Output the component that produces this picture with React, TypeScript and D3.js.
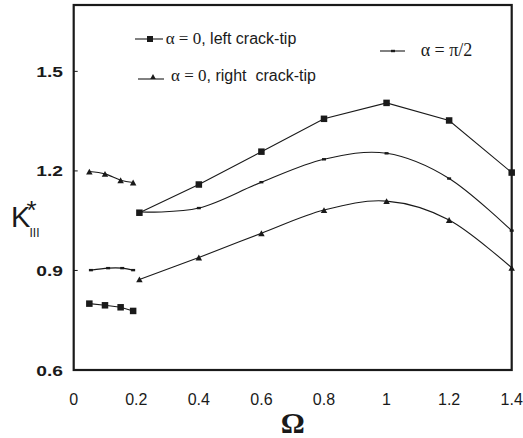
import React from "react";
import * as d3 from "d3";

// Omega values
const omegaShort = [0.05, 0.1, 0.15, 0.19];
const omegaMain = [0.21, 0.4, 0.6, 0.8, 1.0, 1.2, 1.4];
const omegaShortPi = [0.055, 0.11, 0.155, 0.19];

// K*_III, alpha = 0, left crack-tip
const leftShort = [0.8, 0.795, 0.789, 0.778];
const leftMain = [1.074, 1.159, 1.258, 1.357, 1.405, 1.352, 1.195];

// alpha = 0, right crack-tip
const rightShort = [1.198, 1.191, 1.172, 1.165];
const rightMain = [0.873, 0.939, 1.012, 1.082, 1.109, 1.052, 0.908];

// alpha = pi/2
const piShort = [0.901, 0.907, 0.907, 0.901];
const piMain = [1.076, 1.088, 1.166, 1.235, 1.253, 1.177, 1.02];

const xTicks = [0, 0.2, 0.4, 0.6, 0.8, 1, 1.2, 1.4];
const yTicks = [0.6, 0.9, 1.2, 1.5];

const W = 523, H = 438;
const left = 73.7, right = 511.7, top = 5, bottom = 370;

const x = d3.scaleLinear().domain([0, 1.4]).range([left, right]);
const y = d3.scaleLinear().domain([0.6, 1.7]).range([bottom, top]);

type Pt = [number, number];
const zip = (xs: number[], ys: number[]): Pt[] => xs.map((v, i) => [v, ys[i]]);

const straight = d3.line<Pt>().x(d => x(d[0])).y(d => y(d[1]));
const smooth = d3.line<Pt>().x(d => x(d[0])).y(d => y(d[1])).curve(d3.curveCardinal.tension(0));

const sans = "Arial, 'Liberation Sans', Helvetica, sans-serif";
const serif = "'Times New Roman', 'Liberation Serif', serif";
const ink = "#1a1a1a";

function Square({ cx, cy, s = 6.5 }: { cx: number; cy: number; s?: number }) {
  return <rect x={cx - s / 2} y={cy - s / 2} width={s} height={s} fill={ink} />;
}
function Tri({ cx, cy, s = 6.5 }: { cx: number; cy: number; s?: number }) {
  const h = s * 0.9;
  return <path d={`M${cx - s / 2},${cy + h / 2}L${cx + s / 2},${cy + h / 2}L${cx},${cy - h / 2}Z`} fill={ink} />;
}
function Dash({ cx, cy }: { cx: number; cy: number }) {
  return <rect x={cx - 2} y={cy - 1.2} width={4} height={2.4} fill={ink} />;
}

export default function App() {
  const lineStyle = { fill: "none", stroke: ink, strokeWidth: 1.1 };
  return (
    <svg width={W} height={H} style={{ position: "absolute", left: 0, top: 0, background: "#fff" }}>
      {/* series lines */}
      <path d={straight(zip(omegaShort, leftShort)) || ""} {...lineStyle} />
      <path d={straight(zip(omegaMain, leftMain)) || ""} {...lineStyle} />
      <path d={smooth(zip(omegaShort, rightShort)) || ""} {...lineStyle} />
      <path d={smooth(zip(omegaMain, rightMain)) || ""} {...lineStyle} />
      <path d={smooth(zip(omegaShortPi, piShort)) || ""} {...lineStyle} />
      <path d={smooth(zip(omegaMain, piMain)) || ""} {...lineStyle} />

      {zip(omegaShort, leftShort).concat(zip(omegaMain, leftMain)).map((d, i) => (
        <Square key={"s" + i} cx={x(d[0])} cy={y(d[1])} />
      ))}
      {zip(omegaShort, rightShort).concat(zip(omegaMain, rightMain)).map((d, i) => (
        <Tri key={"t" + i} cx={x(d[0])} cy={y(d[1])} />
      ))}
      {zip(omegaShortPi, piShort).concat(zip(omegaMain, piMain)).map((d, i) => (
        <Dash key={"d" + i} cx={x(d[0])} cy={y(d[1])} />
      ))}

      {/* frame */}
      <rect x={left} y={top} width={right - left} height={bottom - top} fill="none" stroke={ink} strokeWidth={2.2} />

      {/* y ticks */}
      {yTicks.map(t => (
        <g key={t}>
          <line x1={left} x2={left + 4} y1={y(t)} y2={y(t)} stroke={ink} strokeWidth={1} />
          <g transform={`translate(63,${y(t) + 5.5}) scale(1.28,1)`}>
            <text textAnchor="end" fontFamily={sans} fontWeight="bold" fontSize={15} fill={ink}>
              {t.toFixed(1)}
            </text>
          </g>
        </g>
      ))}

      {/* x tick labels */}
      {xTicks.map(t => (
        <text key={t} x={x(t)} y={405} textAnchor="middle" fontFamily={sans} fontSize={16} fill={ink}>
          {String(t)}
        </text>
      ))}

      {/* axis titles */}
      <text x={x(0.7)} y={433} textAnchor="middle" fontFamily={serif} fontWeight="bold" fontSize={30} fill={ink}>
        Ω
      </text>
      <text fontFamily={sans} fill={ink}>
        <tspan x={11} y={227} fontSize={29}>K</tspan>
        <tspan x={26.5} y={219} fontSize={26}>*</tspan>
        <tspan x={29.5} y={237} fontSize={12}>III</tspan>
      </text>

      {/* legend */}
      <line x1={135} x2={163} y1={39} y2={39} stroke={ink} strokeWidth={1.1} />
      <Square cx={150} cy={39} s={6} />
      <text x={165.7} y={44} fill={ink}>
        <tspan fontFamily={serif} fontSize={17}>α = 0</tspan>
        <tspan fontFamily={sans} fontSize={16}>, left crack-tip</tspan>
      </text>

      <line x1={138} x2={164} y1={79} y2={79} stroke={ink} strokeWidth={1.1} />
      <Tri cx={153} cy={76.5} s={5.5} />
      <text x={171} y={81} fill={ink}>
        <tspan fontFamily={serif} fontSize={17}>α = 0</tspan>
        <tspan fontFamily={sans} fontSize={16} style={{ whiteSpace: "pre" }}>, right  crack-tip</tspan>
      </text>

      <line x1={380} x2={405} y1={51} y2={51} stroke={ink} strokeWidth={1.1} />
      <Dash cx={393} cy={51} />
      <text x={420.7} y={56} fontFamily={serif} fontSize={18} fill={ink}>α = π/2</text>
    </svg>
  );
}
